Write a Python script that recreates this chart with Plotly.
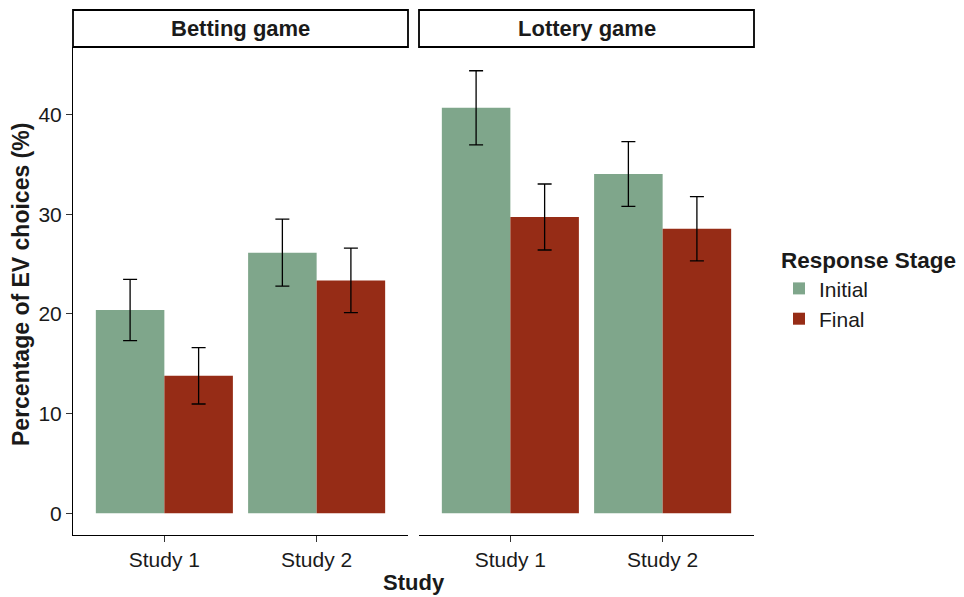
import plotly.graph_objects as go

studies = ["Study 1", "Study 2"]
games = ["Betting game", "Lottery game"]
stages = ["Initial", "Final"]

betting_initial = [20.4, 26.15]
betting_initial_err = [3.08, 3.36]
betting_final = [13.8, 23.37]
betting_final_err = [2.83, 3.24]

lottery_initial = [40.68, 34.04]
lottery_initial_err = [3.72, 3.24]
lottery_final = [29.73, 28.55]
lottery_final_err = [3.31, 3.23]

colors = {"Initial": "#7FA68B", "Final": "#962C16"}

FONT = "Liberation Sans, Arial, sans-serif"
TXT = "#1a1a1a"

fig = go.Figure()

panel_data = [
    ("x", "y", betting_initial, betting_initial_err, betting_final, betting_final_err, True),
    ("x2", "y2", lottery_initial, lottery_initial_err, lottery_final, lottery_final_err, False),
]
for xa, ya, ini, ini_e, fin, fin_e, show in panel_data:
    for stage, vals, errs in (("Initial", ini, ini_e), ("Final", fin, fin_e)):
        fig.add_trace(go.Bar(
            x=studies, y=vals, name=stage, legendgroup=stage, showlegend=show,
            marker=dict(color=colors[stage], line=dict(width=0)),
            error_y=dict(type="data", array=errs, visible=True,
                         color="black", thickness=1.3, width=7),
            xaxis=xa, yaxis=ya,
        ))

W, H = 964, 597
ml, mr, mt, mb = 73, 210, 10, 62
pw = W - ml - mr
ph = H - mt - mb
p1_end = (408 - ml) / pw
p2_start = (419 - ml) / pw
strip_h = 37 / ph
ydom_top = 1 - strip_h

axis_common = dict(
    showgrid=False, zeroline=False, showline=True, linecolor="black", linewidth=1.1,
    ticks="outside", ticklen=6, tickcolor="#333333", tickwidth=1.1,
    tickfont=dict(family=FONT, size=21, color=TXT),
    range=[-0.6, 1.6], fixedrange=True,
)

yr = [-2.17, 46.78]

fig.update_layout(
    width=W, height=H,
    margin=dict(l=ml, r=mr, t=mt, b=mb, autoexpand=False),
    paper_bgcolor="white", plot_bgcolor="white",
    barmode="group", bargap=0.1, bargroupgap=0,
    font=dict(family=FONT, color=TXT),
    xaxis=dict(domain=[0, p1_end], anchor="y", **axis_common),
    xaxis2=dict(domain=[p2_start, 1], anchor="y2", **axis_common),
    yaxis=dict(domain=[0, ydom_top], anchor="x", range=yr, dtick=10,
               showgrid=False, zeroline=False, showline=True, linecolor="black",
               linewidth=1.1, ticks="outside", ticklen=6, tickcolor="#333333",
               tickwidth=1.1, tickfont=dict(family=FONT, size=21, color=TXT)),
    yaxis2=dict(domain=[0, ydom_top], anchor="x2", range=yr, matches="y",
                showgrid=False, zeroline=False, showline=False, ticks="",
                showticklabels=False),
    legend=dict(
        title=dict(text="<b>Response Stage</b>", font=dict(family=FONT, size=22.5, color=TXT)),
        font=dict(family=FONT, size=21, color=TXT),
        x=(779 - ml) / pw, xanchor="left",
        y=1 - (239 - mt) / ph, yanchor="top",
        bgcolor="rgba(0,0,0,0)", tracegroupgap=0, itemwidth=30,
    ),
    showlegend=True,
)

# strips
for (x0, x1), label in zip([(0, p1_end), (p2_start, 1)], games):
    fig.add_shape(type="rect", xref="paper", yref="paper",
                  x0=x0, x1=x1, y0=ydom_top, y1=1,
                  line=dict(color="black", width=1.8), fillcolor="white")
    fig.add_annotation(xref="paper", yref="paper", x=(x0 + x1) / 2, y=ydom_top + strip_h / 2,
                       text="<b>" + label + "</b>", showarrow=False,
                       font=dict(family=FONT, size=22, color=TXT),
                       xanchor="center", yanchor="middle")

# axis titles
fig.add_annotation(xref="paper", yref="paper", x=((383 + 444) / 2 - ml) / pw,
                   y=-(582 - (H - mb)) / ph, text="<b>Study</b>", showarrow=False,
                   font=dict(family=FONT, size=22, color=TXT),
                   xanchor="center", yanchor="middle")
fig.add_annotation(xref="paper", yref="paper", x=(21 - ml) / pw,
                   y=1 - (285 - mt) / ph, text="<b>Percentage of EV choices (%)</b>",
                   showarrow=False, textangle=-90,
                   font=dict(family=FONT, size=23, color=TXT),
                   xanchor="center", yanchor="middle")

fig.write_html("out.html")
